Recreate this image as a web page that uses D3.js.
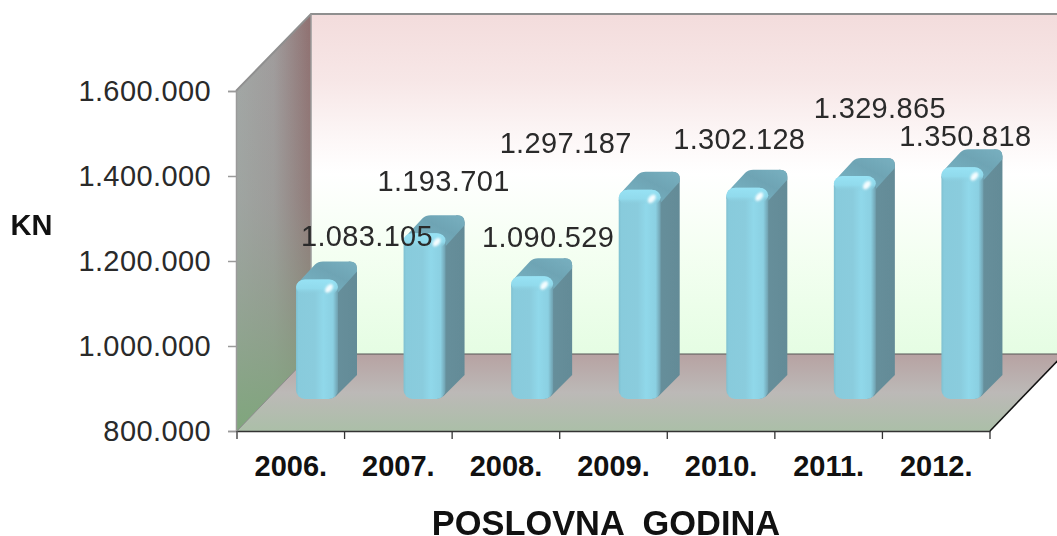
<!DOCTYPE html>
<html><head><meta charset="utf-8">
<script src="https://cdn.jsdelivr.net/npm/d3@7"></script>
<style>html,body{margin:0;padding:0;background:#fff}svg{display:block}text{font-family:"Liberation Sans",Arial,sans-serif}</style>
</head><body><svg id="c" width="1057" height="536"></svg>
<script>
const years = ["2006.","2007.","2008.","2009.","2010.","2011.","2012."];
const values = [1083105,1193701,1090529,1297187,1302128,1329865,1350818];
const valueLabels = ["1.083.105","1.193.701","1.090.529","1.297.187","1.302.128","1.329.865","1.350.818"];
const yTicks = [800000,1000000,1200000,1400000,1600000];
const yTickLabels = ["800.000","1.000.000","1.200.000","1.400.000","1.600.000"];
const yTitle = "KN";
const xTitle = "POSLOVNA  GODINA";

// layout
const L=237,R=990,B=431,T=91,DX=74,DY=-77;
const labelOffset=[[71,-42],[40,-51],[37,-38],[-53,-45],[13,-47],[46,-67],[24,-30]];
const FONT='"Liberation Sans",Arial,sans-serif';
const svg=d3.select("#c"), defs=svg.append("defs");
const x=d3.scaleBand().domain(years).range([L,R]);
const y=d3.scaleLinear().domain([800000,1600000]).range([B,T]);
const barBase=399, barY=d3.scaleLinear().domain([800000,1600000]).range([barBase,barBase-335]);
const BW=42, BD=19, bx=59;

function grad(id,x1,y1,x2,y2,stops){
  const g=defs.append("linearGradient").attr("id",id).attr("x1",x1).attr("y1",y1).attr("x2",x2).attr("y2",y2);
  stops.forEach(s=>g.append("stop").attr("offset",s[0]).attr("stop-color",s[1]).attr("stop-opacity",s[2]===undefined?1:s[2]));
}
grad("back",0,0,0,1,[[0,"#f3dcdc"],[.2,"#f7e7e7"],[.38,"#fdf8f8"],[.47,"#ffffff"],[.7,"#f4fff2"],[1,"#e5fde3"]]);
grad("floor",0,0,0,1,[[0,"#b7a2a2"],[.5,"#bcb9b7"],[1,"#abbfa8"]]);
grad("wallH",0,0,1,0,[[0,"#a3a8a6"],[.5,"#a09c9c"],[1,"#8f7070"]]);
grad("wallV",0,0,0,1,[[0,"#9a9a9a",0],[.45,"#929c92",.25],[1,"#7fa67c",1]]);
grad("face",0,0,1,0,[[0,"#7fc0d0"],[.06,"#88cbdc"],[.45,"#8accdd"],[.65,"#90d8ea"],[.88,"#8bd0e2"],[1,"#6f9fae"]]);
grad("side",0,0,1,0,[[0,"#5f8a96"],[.25,"#668f9b"],[1,"#648b97"]]);
grad("top",0,1,1,0,[[0,"#7ab6c6"],[.6,"#6ea4b4"],[1,"#78b0c0"]]);
grad("cap",0,0,0,1,[[0,"#97e2f4",1],[.6,"#92dcee",.9],[1,"#8accdd",0]]);
const blur=defs.append("filter").attr("id","soft").attr("x","-50%").attr("y","-50%").attr("width","200%").attr("height","200%");
blur.append("feGaussianBlur").attr("stdDeviation",.8);
const soft=defs.append("filter").attr("id","aa");
soft.append("feGaussianBlur").attr("stdDeviation",.45);

const poly=p=>p.map(d=>d.join(",")).join(" ");
const yTop=y(1600000)+DY, yFloor=B+DY, xB=L+DX;
svg.append("polygon").attr("points",poly([[xB,yTop],[1057,yTop],[1057,yFloor],[xB,yFloor]])).attr("fill","url(#back)");
svg.append("polygon").attr("points",poly([[L,B],[R,B],[R+DX,yFloor],[xB,yFloor]])).attr("fill","url(#floor)");
const wall=[[L,T],[xB,yTop],[xB,yFloor],[L,B]];
svg.append("polygon").attr("points",poly(wall)).attr("fill","url(#wallH)");
svg.append("polygon").attr("points",poly(wall)).attr("fill","url(#wallV)");
svg.append("path").attr("d",`M${L-1},${T}L${xB},${yTop}H1057`).attr("fill","none").attr("stroke","#8f8f8f").attr("stroke-width",2);
svg.append("path").attr("d",`M${xB},${yTop}V${yFloor}`).attr("fill","none").attr("stroke","#9a9a9a").attr("stroke-width",1.5);
svg.append("path").attr("d",`M${L},${B}L${xB},${yFloor}`).attr("fill","none").attr("stroke","#8c8c8c").attr("stroke-width",1);
svg.append("path").attr("d",`M${xB},${yFloor}H1057`).attr("fill","none").attr("stroke","#555").attr("stroke-width",1.2);
svg.append("path").attr("d",`M${R},${B}L${R+DX},${yFloor}`).attr("fill","none").attr("stroke","#111").attr("stroke-width",1.6);

// bars
const bars=svg.append("g").attr("filter","url(#aa)").selectAll("g").data(values).join("g")
  .attr("transform",(d,i)=>`translate(${x(years[i])+bx},0)`);
bars.append("path").attr("fill","url(#side)").attr("d",d=>{
  const t=barY(d);
  return `M${BW-8},${t}L${BW+BD-8},${t-BD}Q${BW+BD},${t-BD} ${BW+BD},${t-BD+7}V${barBase-BD-5}L${BW-2},${barBase-3}Q${BW-6},${barBase} ${BW-10},${barBase}Z`;
});
bars.append("path").attr("fill","url(#top)").attr("d",d=>{
  const t=barY(d);
  return `M0,${t+10}Q1,${t+3} 6,${t-2}L${BD},${t-BD+3}Q${BD+3},${t-BD} ${BD+8},${t-BD}H${BW+BD-7}Q${BW+BD},${t-BD} ${BW+BD},${t-BD+7}V${t-BD+10}L${BW},${t+12}V${t+10}H0Z`;
});
bars.append("rect").attr("width",BW).attr("rx",9).attr("ry",9)
  .attr("y",d=>barY(d)-1).attr("height",d=>barBase-barY(d)+1).attr("fill","url(#face)");
bars.append("rect").attr("width",BW).attr("rx",9).attr("ry",9)
  .attr("y",d=>barY(d)-1).attr("height",15).attr("fill","url(#cap)");
bars.append("ellipse").attr("cx",BW-9).attr("cy",d=>barY(d)+8).attr("rx",5).attr("ry",3)
  .attr("transform",d=>`rotate(-50 ${BW-9} ${barY(d)+8})`).attr("fill","#f4fdff").attr("filter","url(#soft)");

// axes
const ya=svg.append("g").attr("transform",`translate(${L-1},0)`)
  .call(d3.axisLeft(y).tickValues(yTicks).tickFormat((d,i)=>yTickLabels[i]).tickSize(8).tickPadding(17));
ya.selectAll("line,path").attr("stroke","#9a9a9a").attr("stroke-width",1.5);
ya.selectAll("text").attr("font-size",29).attr("letter-spacing",.4).attr("fill","#2a2a2a").attr("font-family",FONT);

const xa=svg.append("g").attr("transform",`translate(0,${B})`)
  .call(d3.axisBottom(x).tickSize(0).tickPadding(24));
xa.select("path").attr("stroke","#333").attr("stroke-width",1.6);
xa.selectAll("text").attr("font-size",29).attr("font-weight","bold").attr("fill","#111").attr("font-family",FONT);
svg.append("g").selectAll("line").data(years.concat(["end"])).join("line")
  .attr("x1",(d,i)=>L+i*x.step()).attr("x2",(d,i)=>L+i*x.step())
  .attr("y1",B).attr("y2",B+8).attr("stroke","#333").attr("stroke-width",1.3);

// value labels
svg.append("g").selectAll("text").data(values).join("text")
  .attr("x",(d,i)=>x(years[i])+bx+labelOffset[i][0])
  .attr("y",(d,i)=>barY(d)+labelOffset[i][1])
  .attr("text-anchor","middle").attr("dominant-baseline","middle")
  .attr("font-size",29).attr("letter-spacing",.35).attr("fill","#2a2a2a").text((d,i)=>valueLabels[i]);

svg.append("text").attr("x",31.5).attr("y",235).attr("text-anchor","middle").attr("font-size",29).attr("font-weight","bold").attr("fill","#111").text(yTitle);
svg.append("text").attr("x",606).attr("y",535).attr("text-anchor","middle").attr("font-size",34.4).attr("font-weight","bold").attr("fill","#111").style("white-space","pre").text(xTitle);
</script></body></html>
